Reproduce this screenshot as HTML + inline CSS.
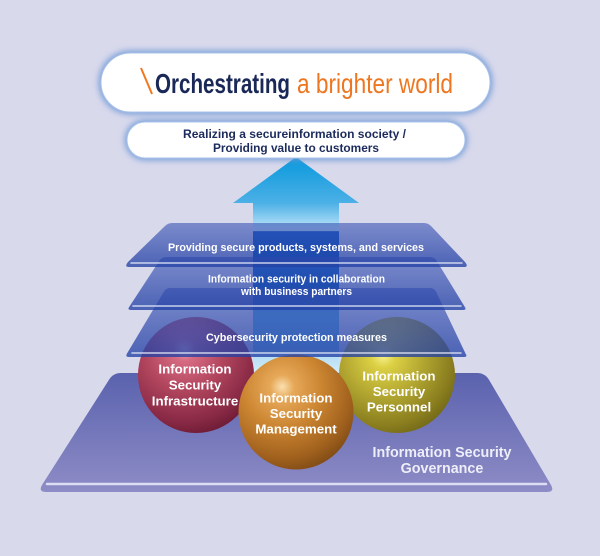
<!DOCTYPE html>
<html><head><meta charset="utf-8"><style>
html,body{margin:0;padding:0;background:#d9d9ec;}
svg{display:block;}
text{font-family:"Liberation Sans",Arial,sans-serif;}
</style></head><body>
<svg width="600" height="556" viewBox="0 0 600 556" xmlns="http://www.w3.org/2000/svg">
<defs>
<linearGradient id="gov" x1="0" y1="0" x2="0" y2="1">
<stop offset="0" stop-color="#5a62ae"/><stop offset="1" stop-color="#8e8cc6"/>
</linearGradient>
<linearGradient id="arr" gradientUnits="userSpaceOnUse" x1="0" y1="157" x2="0" y2="372">
<stop offset="0" stop-color="#0898dc"/>
<stop offset="0.214" stop-color="#4cb0e6"/>
<stop offset="0.344" stop-color="#c4e8fa"/>
<stop offset="0.346" stop-color="#0050c0"/>
<stop offset="0.609" stop-color="#0058b8"/>
<stop offset="0.665" stop-color="#2a80cc"/>
<stop offset="0.735" stop-color="#52a8e0"/>
<stop offset="0.89" stop-color="#6cb8e6"/>
<stop offset="0.93" stop-color="#b8def4"/>
<stop offset="1" stop-color="#d0ecfa"/>
</linearGradient>
<linearGradient id="lay" x1="0" y1="0" x2="0" y2="1">
<stop offset="0" stop-color="rgb(60,85,180)" stop-opacity="0.6"/>
<stop offset="1" stop-color="rgb(35,65,165)" stop-opacity="0.78"/>
</linearGradient>
<radialGradient id="sr" cx="0.4" cy="0.3" r="0.75" fx="0.4" fy="0.28">
<stop offset="0" stop-color="#f2a6b6"/>
<stop offset="0.13" stop-color="#d66a82"/>
<stop offset="0.45" stop-color="#b2465e"/>
<stop offset="0.8" stop-color="#8a2a46"/>
<stop offset="1" stop-color="#6a1a34"/>
</radialGradient>
<radialGradient id="so" cx="0.38" cy="0.3" r="0.75" fx="0.38" fy="0.28">
<stop offset="0" stop-color="#fae0b0"/>
<stop offset="0.14" stop-color="#e6a858"/>
<stop offset="0.45" stop-color="#cc8632"/>
<stop offset="0.8" stop-color="#a2621e"/>
<stop offset="1" stop-color="#7e4a14"/>
</radialGradient>
<radialGradient id="sy" cx="0.38" cy="0.35" r="0.75" fx="0.38" fy="0.33">
<stop offset="0" stop-color="#faf290"/>
<stop offset="0.14" stop-color="#dcd044"/>
<stop offset="0.45" stop-color="#b4a832"/>
<stop offset="0.8" stop-color="#887c1e"/>
<stop offset="1" stop-color="#6a6016"/>
</radialGradient>
<filter id="glow" x="-20%" y="-50%" width="140%" height="200%">
<feGaussianBlur stdDeviation="3.5"/>
</filter>
</defs>

<rect x="0" y="0" width="600" height="556" fill="#d9d9ec"/>

<!-- Governance base -->
<path d="M121,373 L477,373 Q485,373 489,379.8 L551,485 Q555,492 547,492 L46,492 Q38,492 42,485 L109,379.8 Q113,373 121,373 Z" fill="url(#gov)"/>
<line x1="47" y1="484" x2="546" y2="484" stroke="#dcdcf2" stroke-width="2.5" stroke-linecap="round"/>

<!-- Arrow -->
<path d="M296,157 L359,203 L339,203 L339,372 L253,372 L253,203 L233,203 Z" fill="url(#arr)"/>

<!-- Spheres -->
<circle cx="196" cy="375" r="58" fill="url(#sr)"/>
<circle cx="397" cy="375" r="58" fill="url(#sy)"/>
<circle cx="296" cy="412" r="57.5" fill="url(#so)"/>

<!-- Layers -->
<path d="M170,288 L430,288 Q434,288 436,291.5 L465.5,353.5 Q468,357 464,357 L129,357 Q125,357 127,353.5 L164,291.5 Q166,288 170,288 Z" fill="url(#lay)"/>
<line x1="132" y1="353" x2="461" y2="353" stroke="#e4e8f8" stroke-opacity="0.85" stroke-width="1.5" stroke-linecap="round"/>

<path d="M166,257 L430,257 Q434,257 436.3,260.3 L464.7,306.7 Q467,310 463,310 L131,310 Q127,310 129.3,306.7 L159.7,260.3 Q162,257 166,257 Z" fill="url(#lay)"/>
<line x1="133" y1="306" x2="461" y2="306" stroke="#e4e8f8" stroke-opacity="0.85" stroke-width="1.5" stroke-linecap="round"/>

<path d="M172,223 L424,223 Q428,223 431,226 L465,262 Q469,267 464,267 L129,267 Q124,267 128,262 L165,226 Q168,223 172,223 Z" fill="url(#lay)"/>
<line x1="131" y1="263" x2="462" y2="263" stroke="#e4e8f8" stroke-opacity="0.85" stroke-width="1.5" stroke-linecap="round"/>

<!-- Layer texts -->
<g fill="#ffffff" font-weight="bold" font-size="11">
<text x="168" y="251" textLength="256" lengthAdjust="spacingAndGlyphs">Providing secure products, systems, and services</text>
<text x="208" y="282.5" textLength="177" lengthAdjust="spacingAndGlyphs">Information security in collaboration</text>
<text x="241" y="295" textLength="111" lengthAdjust="spacingAndGlyphs">with business partners</text>
<text x="206" y="341" textLength="181" lengthAdjust="spacingAndGlyphs">Cybersecurity protection measures</text>
</g>

<!-- Sphere texts -->
<g fill="#ffffff" font-weight="bold" font-size="13.3" text-anchor="middle">
<text x="195" y="373.5">Information</text>
<text x="195" y="389.5">Security</text>
<text x="195" y="405.5">Infrastructure</text>
<text x="296" y="402.5">Information</text>
<text x="296" y="418">Security</text>
<text x="296" y="433.5">Management</text>
<text x="399" y="380.5">Information</text>
<text x="399" y="396">Security</text>
<text x="399" y="411.5">Personnel</text>
</g>

<!-- Governance text -->
<g fill="#eeeef8" font-weight="bold" font-size="14.3" text-anchor="middle">
<text x="442" y="457">Information Security</text>
<text x="442" y="473">Governance</text>
</g>

<!-- Pill 2 -->
<rect x="125" y="120" width="342" height="40" rx="20" fill="#6f9ad6" filter="url(#glow)"/>
<rect x="127" y="122" width="338" height="36" rx="18" fill="#ffffff" stroke="#a8c4ea" stroke-width="1"/>
<g fill="#1c2b5c" font-weight="bold" font-size="11.5">
<text x="183" y="138" textLength="223" lengthAdjust="spacingAndGlyphs">Realizing a secureinformation society /</text>
<text x="213" y="152" textLength="166" lengthAdjust="spacingAndGlyphs">Providing value to customers</text>
</g>

<!-- Pill 1 -->
<rect x="99" y="51" width="393" height="63" rx="31" fill="#6f9ad6" filter="url(#glow)"/>
<rect x="101" y="53" width="389" height="59" rx="29.5" fill="#ffffff" stroke="#a8c4ea" stroke-width="1"/>
<line x1="141" y1="68" x2="152" y2="94" stroke="#f07820" stroke-width="2"/>
<text x="155" y="93" font-size="28" font-weight="bold" fill="#1a2857" textLength="135" lengthAdjust="spacingAndGlyphs">Orchestrating</text>
<text x="297" y="93" font-size="28" fill="#ee7620" textLength="156" lengthAdjust="spacingAndGlyphs">a brighter world</text>
</svg>
</body></html>
